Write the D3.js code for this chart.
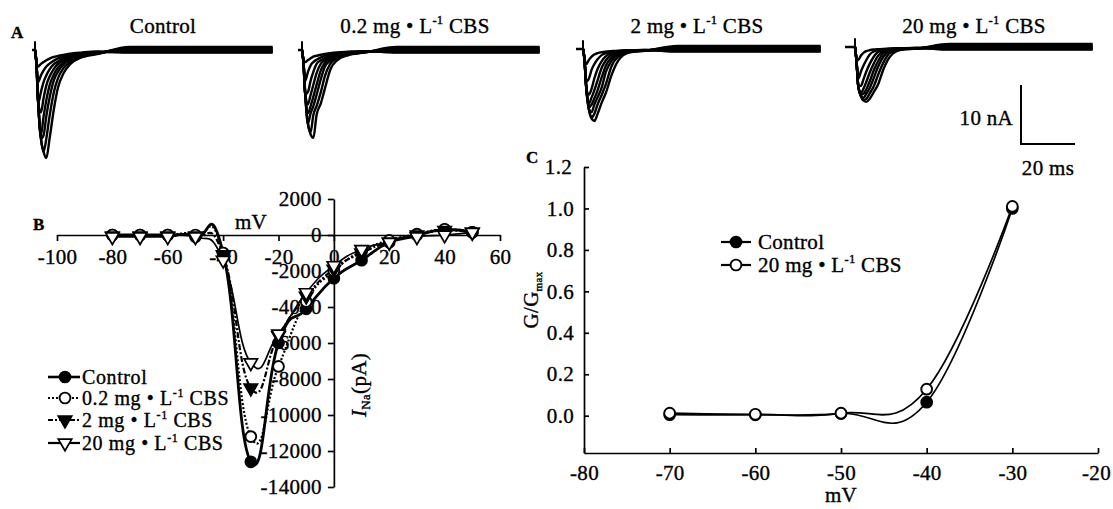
<!DOCTYPE html>
<html>
<head>
<meta charset="utf-8">
<script src="https://cdn.jsdelivr.net/npm/d3@7"></script>
<style>
  body { margin: 0; background: #fff; }
  svg text {
    font-family: "Liberation Serif", "Times New Roman", serif;
    fill: #000; stroke: #000; stroke-width: 0.35px; letter-spacing: 0.3px;
  }
</style>
</head>
<body>
<svg id="fig" width="1113" height="509"></svg>
<script>
// ---- data ----

// A: current traces, ms after the step, nA (negative = inward)
const traceTimes = [0, 0.5, 1.2, 2.2, 3.2, 4.2, 5.4, 7, 8.5, 10.5, 13, 17, 23, 35, 88];
const traceControl = [
  [0, -2, -9, -15, -17.3, -18.3, -15, -10, -6.4, -4, -2.4, -1.3, -0.7, 0.5, 0.5],
  [0, -2, -9, -15, -17.2, -15, -11.2, -7.1, -4.8, -3.1, -2.05, -1.15, -0.62, 0.35, 0.35],
  [0, -2, -9, -15, -14.4, -11.2, -8.1, -5.1, -3.7, -2.45, -1.7, -1, -0.56, 0.2, 0.2],
  [0, -2, -9, -14.4, -11.2, -8.5, -6, -4.1, -3, -2.13, -1.45, -0.92, -0.5, 0.05, 0.05],
  [0, -2, -9, -10.6, -8.1, -6, -4.5, -3.2, -2.37, -1.78, -1.2, -0.81, -0.46, -0.1, -0.1],
  [0, -2, -9, -7.1, -5.4, -4.3, -3.3, -2.4, -1.95, -1.42, -1.05, -0.7, -0.4, -0.25, -0.25],
  [0, -2, -5.4, -4.3, -3.45, -2.8, -2.3, -1.8, -1.42, -1.1, -0.86, -0.58, -0.33, -0.35, -0.35],
  [0, -2, -2.8, -2.35, -2.05, -1.75, -1.45, -1.17, -1, -0.82, -0.63, -0.44, -0.24, -0.45, -0.45]
];
const traceCbs02 = [
  [0, -1.8, -7.5, -12.5, -14.3, -14.9, -11, -9, -6.5, -3.3, -1.75, -0.9, -0.45, 0.5, 0.5],
  [0, -1.8, -7.5, -12.5, -13.9, -11, -9.5, -7.1, -4.4, -2.3, -1.4, -0.78, -0.41, 0.35, 0.35],
  [0, -1.8, -7.5, -12.5, -10.7, -9.5, -7.6, -4.9, -2.8, -1.78, -1.17, -0.67, -0.37, 0.2, 0.2],
  [0, -1.8, -7.5, -10.7, -9.5, -7.9, -5.9, -3.4, -2.15, -1.48, -0.98, -0.6, -0.34, 0.05, 0.05],
  [0, -1.8, -7.5, -9.2, -7.6, -5.9, -3.9, -2.3, -1.72, -1.22, -0.83, -0.52, -0.3, -0.1, -0.1],
  [0, -1.8, -7.5, -7.1, -5.2, -3.7, -2.35, -1.75, -1.35, -0.98, -0.7, -0.45, -0.27, -0.25, -0.25],
  [0, -1.8, -5.2, -3.7, -2.6, -2.05, -1.65, -1.25, -0.98, -0.75, -0.55, -0.38, -0.23, -0.35, -0.35],
  [0, -1.8, -2.05, -1.7, -1.4, -1.12, -0.98, -0.8, -0.67, -0.52, -0.4, -0.3, -0.19, -0.45, -0.45]
];
const traceCbs2 = [
  [0, -1.5, -6.5, -10.2, -11.8, -12.2, -11, -9, -7.4, -4.5, -2, -0.6, -0.3, 0.5, 0.5],
  [0, -1.5, -6.5, -10.2, -11.6, -11, -9.4, -7.7, -5.9, -3, -1.3, -0.51, -0.28, 0.35, 0.35],
  [0, -1.5, -6.5, -10.2, -10.7, -9.4, -8.2, -6.4, -3.85, -2.05, -0.9, -0.44, -0.26, 0.2, 0.2],
  [0, -1.5, -6.5, -9.9, -9.4, -8.4, -7, -4.7, -2.8, -1.5, -0.7, -0.41, -0.24, 0.05, 0.05],
  [0, -1.5, -6.5, -9.2, -8.2, -7, -5.3, -3.1, -1.9, -1, -0.55, -0.36, -0.22, -0.1, -0.1],
  [0, -1.5, -6.5, -7.7, -6.7, -5, -3.4, -2, -1.2, -0.7, -0.45, -0.3, -0.2, -0.25, -0.25],
  [0, -1.5, -5.5, -5, -3.5, -2.55, -1.75, -1, -0.7, -0.5, -0.38, -0.26, -0.17, -0.35, -0.35],
  [0, -1.5, -2.55, -1.85, -1.3, -0.95, -0.7, -0.52, -0.43, -0.36, -0.28, -0.21, -0.15, -0.45, -0.45]
];
const traceCbs20 = [
  [0, -2, -6.6, -8.3, -9.1, -9.3, -8.8, -7.6, -6.4, -3.8, -1.6, -0.48, -0.27, 0.5, 0.5],
  [0, -2, -6.6, -8.3, -9, -8.8, -7.9, -6.6, -4.8, -2.65, -0.95, -0.42, -0.25, 0.35, 0.35],
  [0, -2, -6.6, -8.3, -8.6, -7.9, -7, -5.2, -3.4, -1.65, -0.67, -0.37, -0.23, 0.2, 0.2],
  [0, -2, -6.6, -8.1, -7.9, -7.15, -5.9, -3.9, -2.45, -1.05, -0.55, -0.34, -0.22, 0.05, 0.05],
  [0, -2, -6.6, -7.75, -7, -5.9, -4.4, -2.75, -1.5, -0.73, -0.45, -0.31, -0.2, -0.1, -0.1],
  [0, -2, -6.4, -6.6, -5.4, -4.15, -2.9, -1.6, -0.85, -0.55, -0.38, -0.27, -0.18, -0.25, -0.25],
  [0, -2, -5.4, -4.15, -3.1, -2.2, -1.3, -0.75, -0.55, -0.41, -0.32, -0.24, -0.16, -0.35, -0.35],
  [0, -2, -2.2, -1.45, -0.95, -0.7, -0.55, -0.43, -0.37, -0.31, -0.25, -0.2, -0.15, -0.45, -0.45]
];
const artifactNA = 1.5;
const scaleBarNA = 10;
const scaleBarMs = 20;

// B: I-V relation, mV vs pA
const ivVoltages = [-80, -70, -60, -50, -40, -30, -20, -10, 0, 10, 20, 30, 40, 50];
const ivControl = [0, 0, 0, -100, -1000, -12600, -6000, -4100, -2400, -1400, -400, 0, 300, 150];
const ivCbs02   = [0, 0, 0, 0, -1000, -11200, -7300, -3700, -2000, -900, -300, 50, 320, 150];
const ivCbs2    = [-50, -50, -50, -50, -1100, -8500, -5600, -3400, -1900, -1000, -400, 0, 250, 150];
const ivCbs20   = [-100, -100, -100, -100, -1400, -7100, -5500, -3200, -1700, -800, -400, -100, 0, 150];
const ivXTicks = [-100, -80, -60, -40, -20, 0, 20, 40, 60];
const ivYTicks = [2000, 0, -2000, -4000, -6000, -8000, -10000, -12000, -14000];

// C: activation, mV vs G/Gmax
const gvVoltages = [-70, -60, -50, -40, -30];
const gvControl = [0.005, 0.004, 0.01, 0.065, 1.0];
const gvCbs20   = [0.012, 0.007, 0.012, 0.128, 1.01];
const gvXTicks = [-80, -70, -60, -50, -40, -30, -20];
const gvYTicks = [0, 0.2, 0.4, 0.6, 0.8, 1.0, 1.2];

// ---- drawing ----
const svg = d3.select("#fig");
const FS = 21;

// "0.2 mg • L-1 CBS" with a raised -1
function doseLabel(t, dose, fs) {
    if (dose === null) { t.text("Control"); return; }
    t.append("tspan").text(dose + " mg \u2022 L");
    t.append("tspan").attr("font-size", fs * 0.6).attr("dy", -fs * 0.42).text("-1");
    t.append("tspan").attr("dy", fs * 0.42).text(" CBS");
}

function panelLetter(x, y, s) {
    svg.append("text").attr("x", x).attr("y", y)
        .attr("font-size", 17).attr("font-weight", "bold").text(s);
}

// ===== A =====
const pxPerMs = 2.7, pxPerNA = 5.9;
const panelsA = [
    { dose: null,  tick: 35,  base: 50, lead: 1.1, titleX: 163, traces: traceControl },
    { dose: "0.2", tick: 302, base: 50, lead: 1.5, titleX: 415, traces: traceCbs02 },
    { dose: "2",   tick: 583, base: 49, lead: 2.6, titleX: 697, traces: traceCbs2 },
    { dose: "20",  tick: 855, base: 47, lead: 3.7, titleX: 974, traces: traceCbs20 }
];

panelLetter(11, 38, "A");

panelsA.forEach(p => {
    const xs = d3.scaleLinear().domain([0, 1]).range([p.tick, p.tick + pxPerMs]);
    const ys = d3.scaleLinear().domain([0, -1]).range([p.base, p.base + pxPerNA]);
    const g = svg.append("g");

    const t = g.append("text").attr("x", p.titleX).attr("y", 33)
        .attr("text-anchor", "middle").attr("font-size", FS);
    doseLabel(t, p.dose, FS);

    // holding segment before the step
    g.append("line")
        .attr("x1", xs(-p.lead)).attr("x2", xs(0))
        .attr("y1", ys(0)).attr("y2", ys(0))
        .attr("stroke", "#000").attr("stroke-width", 2.5);
    // capacitive artifact
    g.append("line")
        .attr("x1", xs(0)).attr("x2", xs(0))
        .attr("y1", ys(0)).attr("y2", ys(artifactNA))
        .attr("stroke", "#000").attr("stroke-width", 2);

    const line = d3.line()
        .x((v, i) => xs(traceTimes[i]))
        .y(v => ys(v))
        .curve(d3.curveMonotoneX);
    g.selectAll("path.tr")
        .data(p.traces)
        .join("path")
        .attr("class", "tr")
        .attr("d", line)
        .attr("fill", "none")
        .attr("stroke", "#000")
        .attr("stroke-width", 2.4);
});

// scale bar
{
    const ox = 1021, oy = 144;
    const bx = d3.scaleLinear().domain([0, 1]).range([ox, ox + pxPerMs]);
    const by = d3.scaleLinear().domain([0, 1]).range([oy, oy - pxPerNA]);
    svg.append("path")
        .attr("d", `M${bx(0)},${by(scaleBarNA)}V${by(0)}H${bx(scaleBarMs)}`)
        .attr("fill", "none").attr("stroke", "#000").attr("stroke-width", 2);
    svg.append("text").attr("x", bx(0) - 8).attr("y", 125)
        .attr("text-anchor", "end").attr("font-size", FS).text(scaleBarNA + " nA");
    svg.append("text").attr("x", bx(scaleBarMs / 2)).attr("y", 175)
        .attr("text-anchor", "middle").attr("font-size", FS).text(scaleBarMs + " ms");
}

// ===== B =====
const bxs = d3.scaleLinear().domain([-100, 60]).range([57, 500]);
const bys = d3.scaleLinear().domain([-14000, 2000]).range([487, 199]);

panelLetter(33, 230, "B");

const axB = svg.append("g");
axB.append("g")
    .attr("transform", `translate(0,${bys(0)})`)
    .call(d3.axisBottom(bxs).tickValues(ivXTicks).tickSize(6).tickSizeOuter(0)
        .tickPadding(8).tickFormat(d => String(d)));
axB.append("g")
    .attr("transform", `translate(${bxs(0)},0)`)
    .call(d3.axisLeft(bys).tickValues(ivYTicks).tickSize(6).tickSizeOuter(0)
        .tickPadding(6).tickFormat(d => String(d)));
axB.selectAll("text").attr("font-family", null).attr("font-size", FS);
axB.selectAll("path, line").attr("stroke-width", 1.7);

svg.append("text").attr("x", 251).attr("y", 229)
    .attr("text-anchor", "middle").attr("font-size", FS).text("mV");

// y title: I_Na (pA)
{
    const t = svg.append("text")
        .attr("transform", `translate(366,385) rotate(-90)`)
        .attr("text-anchor", "middle").attr("font-size", FS);
    t.append("tspan").attr("font-style", "italic").text("I");
    t.append("tspan").attr("font-size", 13).attr("dy", 4).text("Na");
    t.append("tspan").attr("dy", -4).text("(pA)");
}

function drawMarker(sel, kind) {
    if (kind.startsWith("circle")) {
        sel.append("circle").attr("r", 5.4)
            .attr("fill", kind === "circleFill" ? "#000" : "#fff")
            .attr("stroke", "#000").attr("stroke-width", 1.9);
    } else {
        sel.append("path")
            .attr("d", d3.symbol(d3.symbolTriangle, 78)())
            .attr("transform", "rotate(180)")
            .attr("fill", kind === "triDownFill" ? "#000" : "#fff")
            .attr("stroke", "#000").attr("stroke-width", 1.7);
    }
}

const ivSeries = [
    { values: ivControl, marker: "circleFill", dash: null, width: 2.8 },
    { values: ivCbs02,   marker: "circleOpen",  dash: "2,2", width: 2.2 },
    { values: ivCbs2,    marker: "triDownFill", dash: "6,2,2,2", width: 2.2 },
    { values: ivCbs20,   marker: "triDownOpen", dash: null, width: 1.7 }
];

const ivLine = d3.line()
    .x((v, i) => bxs(ivVoltages[i]))
    .y(v => bys(v))
    .curve(d3.curveCardinal.tension(-0.5));

ivSeries.forEach(s => {
    svg.append("path").attr("d", ivLine(s.values))
        .attr("fill", "none").attr("stroke", "#000")
        .attr("stroke-width", s.width)
        .attr("stroke-dasharray", s.dash);
});
ivSeries.forEach(s => {
    svg.append("g").selectAll("g")
        .data(s.values)
        .join("g")
        .attr("transform", (v, i) => `translate(${bxs(ivVoltages[i])},${bys(v)})`)
        .each(function () { drawMarker(d3.select(this), s.marker); });
});

// legend B
const legB = [
    { dose: null,  marker: "circleFill",  dash: null, width: 2.6 },
    { dose: "0.2", marker: "circleOpen",  dash: "2,2", width: 2.2 },
    { dose: "2",   marker: "triDownFill", dash: "5,2,2,2", width: 2.2 },
    { dose: "20",  marker: "triDownOpen", dash: null, width: 2.2 }
];
const legBY = [377, 398, 420, 443];
legB.forEach((d, i) => {
    const g = svg.append("g").attr("transform", `translate(0,${legBY[i]})`);
    g.append("line").attr("x1", 48).attr("x2", 80).attr("y1", 0).attr("y2", 0)
        .attr("stroke", "#000").attr("stroke-width", d.width)
        .attr("stroke-dasharray", d.dash);
    drawMarker(g.append("g").attr("transform", "translate(65,0)"), d.marker);
    const t = g.append("text").attr("x", 82).attr("y", 7).attr("font-size", 20)
        .style("letter-spacing", "0.6px");
    doseLabel(t, d.dose, 20);
});

// ===== C =====
const cxs = d3.scaleLinear().domain([-80, -20]).range([584, 1098]);
const cys = d3.scaleLinear().domain([-0.18, 1.2]).range([453, 167]);

panelLetter(526, 163, "C");

const axC = svg.append("g");
axC.append("g")
    .attr("transform", `translate(0,${cys(-0.18)})`)
    .call(d3.axisBottom(cxs).tickValues(gvXTicks).tickSize(-5).tickSizeOuter(0)
        .tickPadding(12).tickFormat(d => String(d)));
axC.append("g")
    .attr("transform", `translate(${cxs(-80)},0)`)
    .call(d3.axisLeft(cys).tickValues(gvYTicks).tickSize(-5).tickSizeOuter(0)
        .tickPadding(10).tickFormat(d => d.toFixed(1)));
axC.selectAll("text").attr("font-family", null).attr("font-size", FS);
axC.selectAll(".tick:last-of-type text").attr("dx", -2);
axC.selectAll("path, line").attr("stroke-width", 1.7);

svg.append("text").attr("x", cxs(-50)).attr("y", 502)
    .attr("text-anchor", "middle").attr("font-size", FS).text("mV");
{
    const t = svg.append("text")
        .attr("transform", `translate(538,300) rotate(-90)`)
        .attr("text-anchor", "middle").attr("font-size", FS);
    t.append("tspan").text("G/G");
    t.append("tspan").attr("font-size", 11).attr("dy", 4).text("max");
}

const gvLine = d3.line()
    .x((v, i) => cxs(gvVoltages[i]))
    .y(v => cys(v))
    .curve(d3.curveCardinal.tension(-0.2));
const gvSeries = [
    { values: gvControl, marker: "circleFill" },
    { values: gvCbs20, marker: "circleOpen" }
];
gvSeries.forEach(s => {
    svg.append("path").attr("d", gvLine(s.values))
        .attr("fill", "none").attr("stroke", "#000").attr("stroke-width", 1.7);
});
gvSeries.forEach(s => {
    svg.append("g").selectAll("g")
        .data(s.values)
        .join("g")
        .attr("transform", (v, i) => `translate(${cxs(gvVoltages[i])},${cys(v)})`)
        .each(function () { drawMarker(d3.select(this), s.marker); });
});

// legend C
const legC = [
    { dose: null, marker: "circleFill" },
    { dose: "20", marker: "circleOpen" }
];
const legCY = [242, 265];
legC.forEach((d, i) => {
    const g = svg.append("g").attr("transform", `translate(0,${legCY[i]})`);
    g.append("line").attr("x1", 721).attr("x2", 751).attr("y1", 0).attr("y2", 0)
        .attr("stroke", "#000").attr("stroke-width", 2.2);
    drawMarker(g.append("g").attr("transform", "translate(736,0)"), d.marker);
    const t = g.append("text").attr("x", 758).attr("y", 7).attr("font-size", FS);
    doseLabel(t, d.dose, FS);
});
</script>
</body>
</html>
